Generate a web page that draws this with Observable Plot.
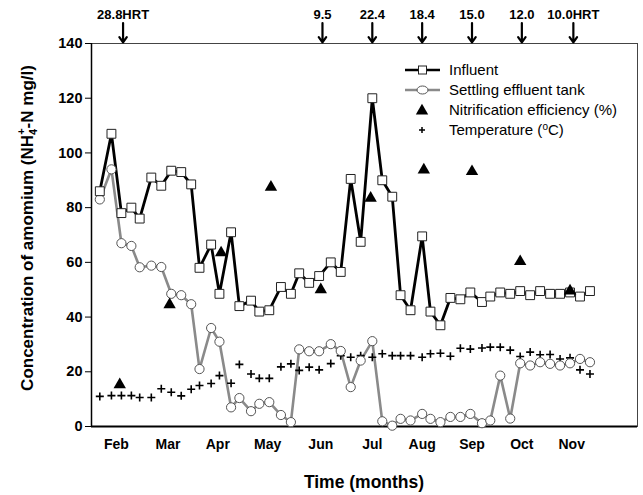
<!DOCTYPE html>
<html><head><meta charset="utf-8">
<script src="https://cdn.jsdelivr.net/npm/d3@7"></script>
<script src="https://cdn.jsdelivr.net/npm/@observablehq/plot@0.6"></script>
<style>
body{margin:0;background:#fff;}
#chart svg{font-family:"Liberation Sans",Arial,sans-serif;color:#000;}
</style></head><body><div id="chart"></div>
<script>
const months = ["Feb","Mar","Apr","May","Jun","Jul","Aug","Sep","Oct","Nov"];
const monthTickDays = [15, 46, 76, 106, 138, 169, 199, 229, 259, 289];
const yTicks = [0, 20, 40, 60, 80, 100, 120, 140];
const sampleDays = [5,12,18,24,29,36,42,48,54,60,65,72,77,84,89,96,101,107,114,120,125,131,137,144,150,156,162,169,175,181,186,192,199,204,210,216,222,228,235,240,246,252,258,264,270,276,282,288,294,300];
const influent = [86,107,78,80,76,91,88,93.5,93,88.5,58,66.5,48.5,71,44,46,42,42.5,51,48.5,56,52.5,55,60,56.5,90.5,67.5,120,90,84,48,42.5,69.5,42,37,47,46.5,49,45.5,47.5,49,48.5,49.5,48,49.5,48.5,48.5,49,47.5,49.5];
const effluent = [83,94,67,66,58.2,58.8,58.3,48.5,48,44.7,21,36,31,7,10.4,5.6,8.3,8.9,4.2,1.6,28.2,27.5,27.5,30.1,27.6,14.4,24.1,31.2,1.9,0.3,2.8,2.2,4.6,2.8,1.6,3.5,3.5,4.6,1.2,2.2,18.6,2.9,23.1,22.3,23.5,22.9,22.3,23.1,24.7,23.5];
const temperature = [11,11.3,11.3,11.3,10.6,10.6,13.8,12.5,11.2,13.6,15,15.7,18.6,15.8,22.7,19.2,17.6,17.6,21.8,22.9,20.5,21.7,20.7,23,25.9,25.3,25.9,25.3,26.6,25.9,25.9,25.9,25.3,26.6,26.8,25.7,28.6,28.3,28.7,29,29,27.9,25.6,27.2,26.2,26.3,24.7,25.1,20.7,19.2];
const nitrDays = [17,47,78,108,138,168,200,229,258,288];
const nitrEff = [15.3,44.5,63.5,87.5,50,83.5,93.8,93.2,60.3,49.6];
const hrtDays = [19,139,169,199,229,259,290];
const hrtLabels = ["28.8HRT","9.5","22.4","18.4","15.0","12.0","10.0HRT"];

const inf = sampleDays.map((d,i)=>({d, v: influent[i]}));
const eff = sampleDays.map((d,i)=>({d, v: effluent[i]}));
const tmp = sampleDays.map((d,i)=>({d, v: temperature[i]}));
const nit = nitrDays.map((d,i)=>({d, v: nitrEff[i]}));
const hrt = hrtDays.map((d,i)=>({d, t: hrtLabels[i]}));

const svg = Plot.plot({
  width: 643, height: 495,
  marginLeft: 91, marginRight: 6, marginTop: 43, marginBottom: 69,
  style: {fontFamily: "Liberation Sans, Arial, sans-serif", background: "#fff", color: "#000"},
  x: {domain: [0, 328.6], axis: null},
  y: {domain: [0, 140], axis: null},
  marks: [
    Plot.frame({stroke: "#444", strokeWidth: 1}),
    Plot.ruleY([0], {stroke: "#000", strokeWidth: 2}),
    Plot.ruleX([0], {stroke: "#000", strokeWidth: 1.5}),
    Plot.axisY({ticks: yTicks, tickSize: 6, tickPadding: 3, fontWeight: "bold", fontSize: 14.5, label: null, stroke: "#000"}),
    Plot.axisX({ticks: monthTickDays, tickSize: 0, tickPadding: 13, tickFormat: d => months[monthTickDays.indexOf(d)], fontWeight: "bold", fontSize: 14, label: null}),
    Plot.line(eff, {x: "d", y: "v", stroke: "#8a8a8a", strokeWidth: 2.6}),
    Plot.line(inf, {x: "d", y: "v", stroke: "#000", strokeWidth: 2.8}),
    Plot.dot(tmp, {x: "d", y: "v", symbol: "plus", r: 2.7, stroke: "#000", strokeWidth: 1.6}),
    Plot.dot(eff, {x: "d", y: "v", symbol: "circle", r: 4.6, fill: "#fff", stroke: "#555", strokeWidth: 1}),
    Plot.dot(inf, {x: "d", y: "v", symbol: "square", r: 5, fill: "#fff", stroke: "#222", strokeWidth: 1}),
    Plot.dot(nit, {x: "d", y: "v", symbol: "triangle", r: 4.6, fill: "#000", stroke: "none"}),
    Plot.arrow(hrt, {x: "d", y1: 147.5, y2: 140.4, stroke: "#000", strokeWidth: 2.2, headLength: 9, headAngle: 70}),
    Plot.text(hrt, {x: "d", y: 150.3, text: "t", fontWeight: "bold", fontSize: 13, fill: "#000"})
  ]
});

const s = d3.select(svg);
// y-axis title
const yt = s.append("text")
  .attr("transform", "translate(33,228) rotate(-90)")
  .attr("text-anchor", "middle")
  .attr("font-weight", "bold").attr("font-size", 17).attr("fill", "#000");
yt.append("tspan").text("Concentration of amomium (NH");
yt.append("tspan").attr("font-size", 11).attr("dy", 4).text("4");
yt.append("tspan").attr("font-size", 11).attr("dx", -6).attr("dy", -12).text("+");
yt.append("tspan").attr("dy", 8).text("-N mg/l)");
// x-axis title
s.append("text").attr("x", 364).attr("y", 488).attr("text-anchor", "middle")
  .attr("font-weight", "bold").attr("font-size", 17.5).attr("fill", "#000").text("Time (months)");

// legend
const lg = s.append("g").attr("font-size", 15).attr("fill", "#000").attr("text-anchor", "start");
const rows = [70, 90, 110, 130];
const names = ["Influent", "Settling effluent tank", "Nitrification efficiency (%)", "Temperature (\u00B0C)"];
lg.append("line").attr("x1", 405).attr("x2", 440).attr("y1", rows[0]).attr("y2", rows[0]).attr("stroke", "#000").attr("stroke-width", 2.5);
lg.append("rect").attr("x", 418.5).attr("y", rows[0]-4).attr("width", 8).attr("height", 8).attr("fill", "#fff").attr("stroke", "#222");
lg.append("line").attr("x1", 405).attr("x2", 440).attr("y1", rows[1]).attr("y2", rows[1]).attr("stroke", "#8a8a8a").attr("stroke-width", 2.5);
lg.append("ellipse").attr("cx", 422.5).attr("cy", rows[1]).attr("rx", 5.5).attr("ry", 4).attr("fill", "#fff").attr("stroke", "#555");
lg.append("path").attr("d", d3.symbol(d3.symbolTriangle, 66)()).attr("transform", `translate(422,${rows[2]+1})`).attr("fill", "#000");
lg.append("path").attr("d", "M-3,0H3M0,-3V3").attr("transform", `translate(422,${rows[3]})`).attr("stroke", "#000").attr("stroke-width", 1.5);
names.forEach((n, i) => {
  const t = lg.append("text").attr("x", 449).attr("y", rows[i]).attr("dy", "0.35em").attr("text-anchor", "start");
  if (i === 3) {
    t.append("tspan").text("Temperature (");
    t.append("tspan").attr("font-size", 10).attr("dy", -5).text("o");
    t.append("tspan").attr("dy", 5).text("C)");
  } else t.text(n);
});

document.getElementById("chart").appendChild(svg);
</script>
</body></html>
